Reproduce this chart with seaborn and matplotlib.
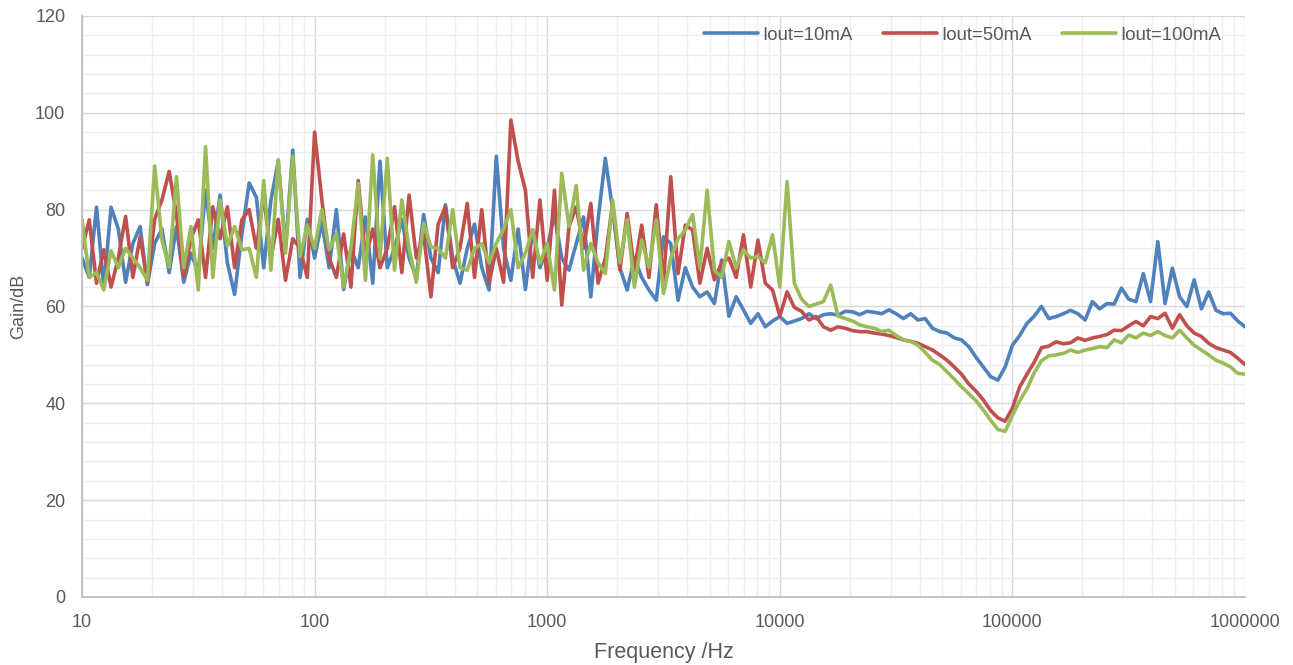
import numpy as np
import pandas as pd
import matplotlib
matplotlib.use("Agg")
import matplotlib.pyplot as plt
from matplotlib.ticker import FixedLocator, NullFormatter, MultipleLocator
import seaborn as sns

# Частоты развёртки: 32 точки на декаду, 10 Гц ... 1 МГц
freq_hz = np.logspace(1, 6, 161)

gain_10ma = [
    70, 66, 80.5, 64, 80.5, 76, 65, 73, 76.5, 64.5,
    73, 76, 67, 76.5, 65, 71, 67, 84, 72, 83,
    69, 62.5, 75, 85.5, 82.5, 68, 82, 90, 72, 92.3,
    66, 78, 70, 77.5, 68, 80, 63.5, 72, 68, 78.5,
    64.8, 90, 68, 72, 78, 70, 66, 79, 70, 67,
    81, 70, 64.8, 72, 77, 68, 63.4, 91, 72, 65.4,
    76, 63.5, 75.8, 68, 72, 79, 70, 67.5, 73, 78.5,
    62, 78, 90.6, 80, 68, 63.4, 70, 66, 63.4, 61.3,
    74.4, 73, 61.3, 68, 64, 62, 63, 60.6, 69.6, 58,
    62, 59.3, 56.5, 58.5, 55.8, 57, 57.9, 56.5, 57, 57.5,
    58.5, 57.5, 58.3, 58.5, 58.2, 59, 58.9, 58.3, 59, 58.8,
    58.5, 59.3, 58.5, 57.5, 58.5, 57.2, 57.5, 55.5, 54.8, 54.5,
    53.5, 53.1, 51.7, 49.5, 47.5, 45.5, 44.8, 47.5, 52, 54,
    56.5, 58, 60, 57.5, 57.9, 58.5, 59.2, 58.5, 57.2, 61,
    59.5, 60.6, 60.5, 63.8, 61.5, 61, 66.8, 61, 73.4, 60.6,
    67.9, 62, 60, 65.5, 59.5, 63, 59.2, 58.5, 58.6, 57,
    55.8,
]

gain_50ma = [
    72, 77.9, 64.8, 71.7, 64, 70, 78.6, 66, 74.4, 65,
    78, 82, 87.9, 79, 66, 74, 77.9, 66, 80.6, 74,
    80.6, 68, 77.9, 80, 72, 83, 70, 78, 65.4, 74,
    72, 66, 96, 82, 70, 66, 75, 64, 86, 70,
    76, 68, 72, 80.6, 67, 83, 70, 75, 62, 77,
    80.6, 68, 72, 81.3, 66, 80, 64.8, 72, 65, 98.5,
    90, 84, 66, 82, 65.4, 84, 60.3, 76.5, 80.6, 72,
    81.3, 64.8, 70, 81.3, 67.5, 79.2, 67.5, 76.8, 66, 81,
    65, 86.8, 66.8, 76.8, 75.8, 64.8, 72, 65.5, 69, 70,
    66, 74.8, 64, 73.7, 64.8, 63.4, 58, 63, 59.8, 59,
    57.2, 57.9, 55.8, 55.1, 55.8, 55.5, 55, 54.8, 54.8, 54.5,
    54.3, 54, 53.6, 53.1, 52.8, 52.4, 51.7, 51, 50, 48.9,
    47.5, 46, 44, 42.5, 40.7, 38.5, 37, 36.3, 39, 43.4,
    46, 48.5, 51.5, 51.8, 52.7, 52.3, 52.5, 53.5, 53, 53.5,
    53.8, 54.2, 55.1, 55, 56, 56.9, 56, 57.9, 57.5, 58.6,
    55.5, 58.3, 56, 54.5, 53.8, 52.4, 51.5, 51, 50.5, 49.3,
    48,
]

gain_100ma = [
    78, 66, 67, 63.4, 71.5, 68, 72, 70, 68, 65.4,
    89, 73.7, 68.2, 86.8, 68, 76.5, 63.4, 93, 66, 82,
    72.5, 76.5, 71.7, 72, 66, 86, 67.5, 90.3, 71, 91,
    70.3, 76.8, 72, 80, 71.7, 75, 64, 72, 85.4, 65.4,
    91.3, 70, 90.6, 67.5, 82, 72, 65, 77.2, 72.3, 72,
    70, 80, 68, 67.5, 72, 73, 69, 73, 76, 80,
    68, 71, 75.8, 68.9, 73, 63.4, 87.5, 76.5, 85, 67.5,
    73, 69, 66.8, 82, 69, 77.9, 64, 73.7, 68, 77.9,
    62.7, 70, 74, 75.8, 79, 68, 84, 67.5, 66, 73.4,
    68, 71.7, 70, 70.3, 69, 74.8, 64, 85.8, 64.8, 61.5,
    60, 60.5, 61, 64.4, 58, 57.5, 57, 56.2, 55.8, 55.5,
    54.8, 55.1, 54, 53.1, 52.8, 52, 50.5, 48.9, 48, 46.5,
    45, 43.4, 42, 40.5, 38.6, 36.5, 34.6, 34.2, 37.5, 40.5,
    43, 46.3, 48.8, 49.8, 50, 50.3, 51, 50.5, 51, 51.3,
    51.7, 51.5, 53.1, 52.5, 54.1, 53.5, 54.5, 54, 54.8, 54,
    53.5, 55.1, 53.5, 52, 51, 50, 48.9, 48.3, 47.5, 46.2,
    46,
]

series_names = ["Iout=10mA", "Iout=50mA", "Iout=100mA"]
colors = ["#4F81BD", "#C0504D", "#9BBB59"]
x_ticks = [10, 100, 1000, 10000, 100000, 1000000]

df = pd.concat([
    pd.DataFrame({"freq": freq_hz, "gain": g, "series": name})
    for name, g in zip(series_names, [gain_10ma, gain_50ma, gain_100ma])
])

sns.set_theme(style="white")
plt.rcParams["font.family"] = ["Liberation Sans", "DejaVu Sans"]

fig = plt.figure(figsize=(12.93, 6.65), dpi=100)
ax = fig.add_axes([0.0634, 0.1023, 0.8995, 0.8737])

sns.lineplot(data=df, x="freq", y="gain", hue="series", hue_order=series_names,
             palette=colors, linewidth=2.6, ax=ax, sort=False, estimator=None)
for line in ax.get_lines():
    line.set_solid_joinstyle("round")

ax.set_xscale("log")
ax.set_xlim(10, 1e6)
ax.set_ylim(0, 120)

ax.xaxis.set_major_locator(FixedLocator(x_ticks))
ax.set_xticklabels([str(t) for t in x_ticks])
minor = [m * 10 ** d for d in range(1, 6) for m in range(2, 10)]
ax.xaxis.set_minor_locator(FixedLocator(minor))
ax.xaxis.set_minor_formatter(NullFormatter())
ax.yaxis.set_major_locator(MultipleLocator(20))
ax.yaxis.set_minor_locator(MultipleLocator(4))

ax.grid(which="major", color="#d9d9d9", linewidth=1.0)
ax.grid(which="minor", color="#eeeeee", linewidth=1.0)
ax.set_axisbelow(True)

ax.tick_params(which="both", length=0, labelsize=13, labelcolor="#595959")
ax.tick_params(axis="y", pad=12)
ax.tick_params(axis="x", pad=12)

for side in ["top", "right"]:
    ax.spines[side].set_visible(False)
for side in ["left", "bottom"]:
    ax.spines[side].set_color("#bfbfbf")
    ax.spines[side].set_linewidth(1.3)

ax.set_xlabel("Frequency /Hz", fontsize=15.5, color="#595959", labelpad=8)
ax.set_ylabel("Gain/dB", fontsize=13, color="#595959", labelpad=6)

ax.legend(ncol=3, frameon=False, loc="upper right", bbox_to_anchor=(0.994, 1.01),
          fontsize=13.4, handlelength=2.9, handletextpad=0.25, columnspacing=1.6,
          labelcolor="#595959")

fig.savefig("out.png", dpi=100)
